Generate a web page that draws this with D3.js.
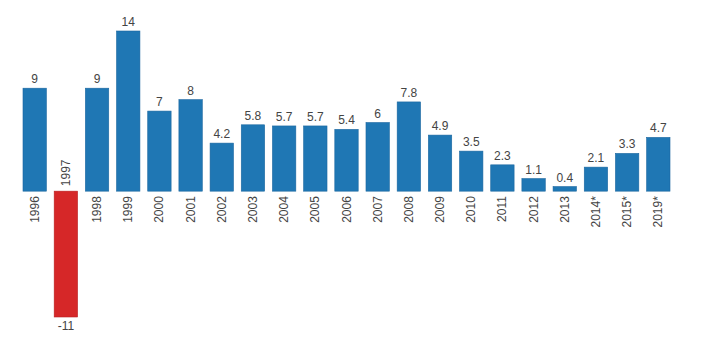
<!DOCTYPE html>
<html><head><meta charset="utf-8">
<script src="https://cdn.jsdelivr.net/npm/d3@7"></script>
<style>body{margin:0;background:#fff}svg{display:block}</style>
</head><body><svg id="c" width="705" height="359"></svg>
<script>
const categories = ["1996","1997","1998","1999","2000","2001","2002","2003","2004","2005","2006","2007","2008","2009","2010","2011","2012","2013","2014*","2015*","2019*"];
const values = [9,-11,9,14,7,8,4.2,5.8,5.7,5.7,5.4,6,7.8,4.9,3.5,2.3,1.1,0.4,2.1,3.3,4.7];
const labels = ["9","-11","9","14","7","8","4.2","5.8","5.7","5.7","5.4","6","7.8","4.9","3.5","2.3","1.1","0.4","2.1","3.3","4.7"];

const svg = d3.select("#c");
const x = d3.scaleBand().domain(categories).range([19.1, 673.9]).paddingInner(0.25).paddingOuter(0.125);
const y = d3.scaleLinear().domain([-11, 14]).range([317, 31]);
const data = categories.map((c, i) => ({c, v: values[i], l: labels[i]}));
const font = "'Liberation Sans', Arial, sans-serif";

svg.append("g").selectAll("rect").data(data).join("rect")
  .attr("x", d => x(d.c))
  .attr("width", x.bandwidth())
  .attr("y", d => y(Math.max(0, d.v)))
  .attr("height", d => Math.abs(y(d.v) - y(0)))
  .attr("fill", d => d.v < 0 ? "#d62728" : "#1f77b4")
  .attr("stroke", d => d.v < 0 ? "#b82022" : "#1b67a0")
  .attr("stroke-width", 0.6);

svg.append("g").selectAll("text").data(data).join("text")
  .attr("x", d => x(d.c) + x.bandwidth() / 2)
  .attr("y", d => d.v < 0 ? y(d.v) + 13 : y(d.v) - 5)
  .attr("text-anchor", "middle")
  .attr("font-family", font).attr("font-size", 12).attr("fill", "#444")
  .text(d => d.l);

svg.append("g").selectAll("text").data(data).join("text")
  .attr("transform", d => `translate(${x(d.c) + x.bandwidth() / 2 + 4},${d.v < 0 ? y(0) - 5 : y(0) + 5}) rotate(-90)`)
  .attr("text-anchor", d => d.v < 0 ? "start" : "end")
  .attr("font-family", font).attr("font-size", 12).attr("fill", "#444")
  .text(d => d.c);
</script></body></html>
